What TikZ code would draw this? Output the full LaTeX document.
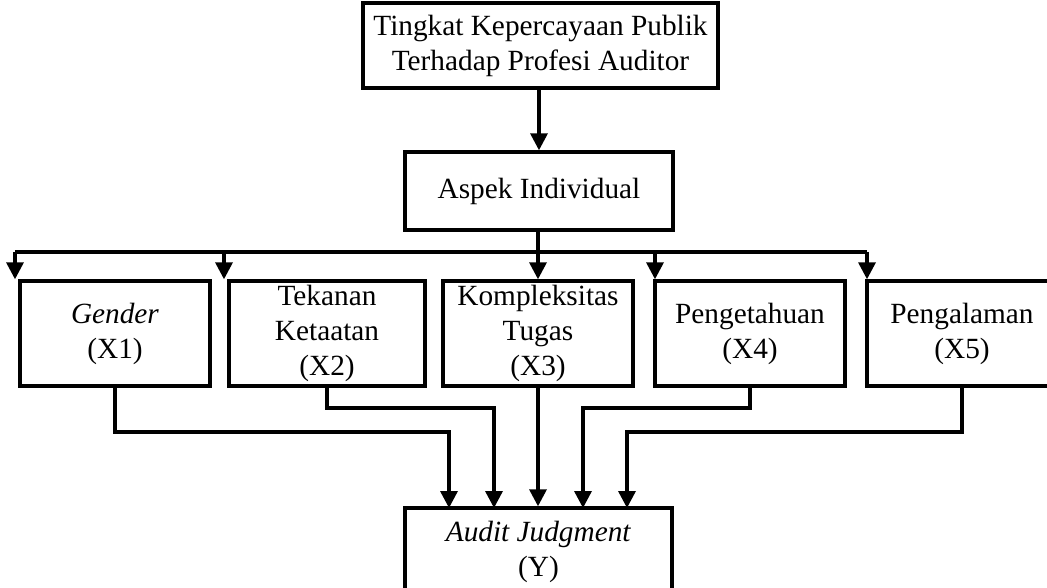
\documentclass[tikz,border=0pt]{standalone}
\usepackage{fontspec}
\setmainfont{Liberation Serif}
\usetikzlibrary{arrows.meta,calc}
\begin{document}
\begin{tikzpicture}[x=1pt,y=1pt,
  box/.style={draw=black, line width=3.4pt, fill=white, inner sep=0pt, align=center,
    font=\fontsize{29.3}{35}\selectfont},
  link/.style={line width=3.4pt},
  arr/.style={line width=3.4pt, -{Triangle[width=17pt,length=17pt]}}]
\useasboundingbox (0,0) rectangle (1047,-588);
\begin{scope}
\clip (0,0) rectangle (1047,-588);
\node[box, minimum width=355, minimum height=85] (top) at (540.5,-45.5) {Tingkat Kepercayaan Publik\\Terhadap Profesi Auditor};
\node[box, minimum width=268, minimum height=78] (asp) at (539,-191) {Aspek Individual};
\node[box, minimum width=190, minimum height=105] (x1) at (115,-333.5) {\textit{Gender}\\(X1)};
\node[box, minimum width=196, minimum height=105] (x2) at (327,-333.5) {Tekanan\\Ketaatan\\(X2)};
\node[box, minimum width=190, minimum height=105] (x3) at (538,-333.5) {Kompleksitas\\Tugas\\(X3)};
\node[box, minimum width=190, minimum height=105] (x4) at (750,-333.5) {Pengetahuan\\(X4)};
\node[box, minimum width=190, minimum height=105] (x5) at (962,-333.5) {Pengalaman\\(X5)};
\node[box, minimum width=267, minimum height=88] (y) at (538.5,-552) {\textit{Audit Judgment}\\(Y)};

\coordinate (bl) at (15,-252);
\coordinate (br) at (867,-252);
\coordinate (b2) at (224,-252);
\coordinate (b4) at (655,-252);

\draw[arr] (top.south -| asp) -- (asp.north);
\draw[link] (bl) -- (br);
\draw[arr] (asp.south -| x3) -- (x3.north);
\draw[arr] (bl) -- (bl |- x1.north);
\draw[arr] (b2) -- (b2 |- x2.north);
\draw[arr] (b4) -- (b4 |- x4.north);
\draw[arr] (br) -- (br |- x5.north);

\draw[arr] (x1.south) |- (449,-432) -- (449,-508);
\draw[arr] (x2.south) |- (494,-408) -- (494,-508);
\draw[arr] (x3.south) -- (y.north -| x3.south);
\draw[arr] (x4.south) |- (583,-408) -- (583,-508);
\draw[arr] (x5.south) |- (627,-432) -- (627,-508);
\end{scope}
\end{tikzpicture}
\end{document}
